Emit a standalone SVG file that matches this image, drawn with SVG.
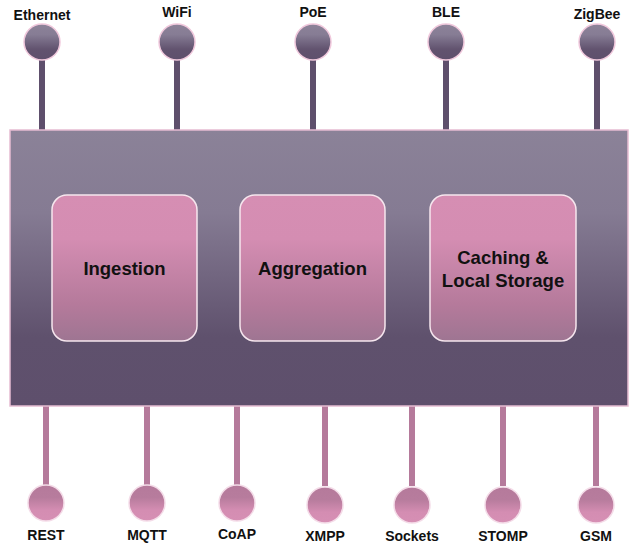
<svg xmlns="http://www.w3.org/2000/svg" width="640" height="554" viewBox="0 0 640 554">
<defs>
<linearGradient id="gMain" x1="0" y1="0" x2="0" y2="1">
<stop offset="0" stop-color="#8b8298"/>
<stop offset="0.3" stop-color="#857b93"/>
<stop offset="0.75" stop-color="#5f516d"/>
<stop offset="1" stop-color="#5e4f6c"/>
</linearGradient>
<linearGradient id="gBox" x1="0" y1="0" x2="0" y2="1">
<stop offset="0" stop-color="#d68eb3"/>
<stop offset="0.3" stop-color="#d48db2"/>
<stop offset="0.75" stop-color="#b57a9b"/>
<stop offset="1" stop-color="#9e7592"/>
</linearGradient>
<linearGradient id="gTop" x1="0" y1="0" x2="0" y2="1">
<stop offset="0" stop-color="#8d8399"/>
<stop offset="0.3" stop-color="#867c94"/>
<stop offset="0.7" stop-color="#62536f"/>
<stop offset="1" stop-color="#5e4f6c"/>
</linearGradient>
<linearGradient id="gBot" x1="0" y1="0" x2="0" y2="1">
<stop offset="0" stop-color="#b57a9b"/>
<stop offset="0.35" stop-color="#b77c9d"/>
<stop offset="0.7" stop-color="#d48db2"/>
<stop offset="1" stop-color="#d68fb4"/>
</linearGradient>
</defs>
<style>
.lbl{font-family:"Liberation Sans",Arial,sans-serif;font-weight:bold;font-size:14px;fill:#111;text-anchor:middle}
.box{font-family:"Liberation Sans",Arial,sans-serif;font-weight:bold;font-size:18.5px;fill:#111;text-anchor:middle}
.stemT{stroke:#5e4f6c;stroke-width:6}
.stemB{stroke:#b57a9b;stroke-width:6}
.pT{fill:url(#gTop);stroke:#f0c8dc;stroke-width:1.5}
.pB{fill:url(#gBot);stroke:#f4dce8;stroke-width:1.5}
.inner{fill:url(#gBox);stroke:#f6e6ee;stroke-width:1.5}
</style>
<g id="connectors">
<line class="stemT" x1="42" y1="60" x2="42" y2="130"/>
<line class="stemT" x1="177" y1="60" x2="177" y2="130"/>
<line class="stemT" x1="313" y1="60" x2="313" y2="130"/>
<line class="stemT" x1="446" y1="60" x2="446" y2="130"/>
<line class="stemT" x1="597" y1="60" x2="597" y2="130"/>
<line class="stemB" x1="46" y1="406" x2="46" y2="486"/>
<line class="stemB" x1="147" y1="406" x2="147" y2="486"/>
<line class="stemB" x1="237" y1="406" x2="237" y2="486"/>
<line class="stemB" x1="325" y1="406" x2="325" y2="486"/>
<line class="stemB" x1="412" y1="406" x2="412" y2="486"/>
<line class="stemB" x1="503" y1="406" x2="503" y2="486"/>
<line class="stemB" x1="596" y1="406" x2="596" y2="486"/>
</g>
<g id="hub">
<rect x="10" y="130" width="618" height="276" fill="url(#gMain)" stroke="#e6bcd2" stroke-width="1.5"/>
</g>
<g id="ingestion">
<rect class="inner" x="52" y="195" width="145" height="146" rx="15"/>
<text class="box" x="124.5" y="275">Ingestion</text>
</g>
<g id="aggregation">
<rect class="inner" x="240" y="195" width="145" height="146" rx="15"/>
<text class="box" x="312.5" y="275">Aggregation</text>
</g>
<g id="caching">
<rect class="inner" x="430" y="195" width="146" height="146" rx="15"/>
<text class="box" x="503" y="264">Caching &amp;</text>
<text class="box" x="503" y="287">Local Storage</text>
</g>
<g id="ethernet"><circle class="pT" cx="42" cy="42" r="18"/><text class="lbl" x="42" y="20">Ethernet</text></g>
<g id="wifi"><circle class="pT" cx="177" cy="42" r="18"/><text class="lbl" x="177" y="17">WiFi</text></g>
<g id="poe"><circle class="pT" cx="313" cy="42" r="18"/><text class="lbl" x="313" y="17">PoE</text></g>
<g id="ble"><circle class="pT" cx="446" cy="42" r="18"/><text class="lbl" x="446" y="17">BLE</text></g>
<g id="zigbee"><circle class="pT" cx="597" cy="42" r="18"/><text class="lbl" x="597" y="19">ZigBee</text></g>
<g id="rest"><circle class="pB" cx="46" cy="503" r="18"/><text class="lbl" x="46" y="540">REST</text></g>
<g id="mqtt"><circle class="pB" cx="147" cy="503" r="18"/><text class="lbl" x="147" y="540">MQTT</text></g>
<g id="coap"><circle class="pB" cx="237" cy="503" r="18"/><text class="lbl" x="237" y="539">CoAP</text></g>
<g id="xmpp"><circle class="pB" cx="325" cy="505" r="18"/><text class="lbl" x="325" y="541">XMPP</text></g>
<g id="sockets"><circle class="pB" cx="412" cy="505" r="18"/><text class="lbl" x="412" y="541">Sockets</text></g>
<g id="stomp"><circle class="pB" cx="503" cy="505" r="18"/><text class="lbl" x="503" y="541">STOMP</text></g>
<g id="gsm"><circle class="pB" cx="596" cy="505" r="18"/><text class="lbl" x="596" y="541">GSM</text></g>
</svg>
